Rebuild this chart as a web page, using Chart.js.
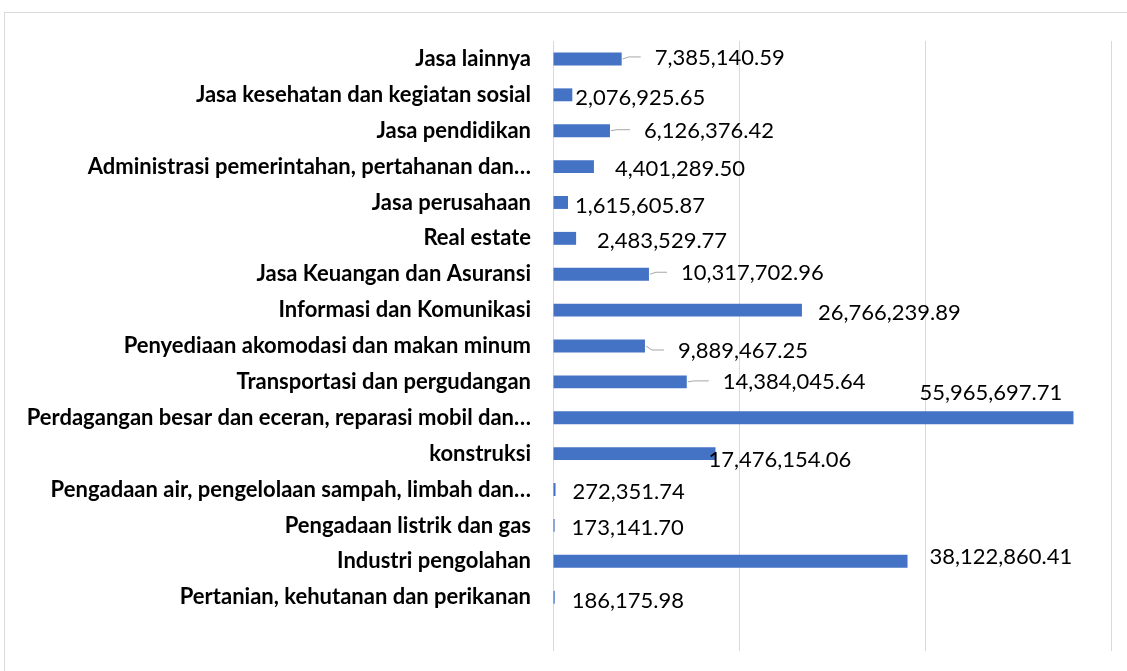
<!DOCTYPE html>
<html>
<head>
<meta charset="utf-8">
<script src="https://cdn.jsdelivr.net/npm/chart.js@4/dist/chart.umd.min.js"></script>
<style>
  html, body { margin: 0; padding: 0; background: #fff; overflow: hidden; }
  #wrap { position: relative; width: 1127px; height: 671px; }
  #frame { position: absolute; left: 4px; top: 12px; width: 1140px; height: 690px; border: 1px solid #d9d9d9; box-sizing: border-box; }
  canvas { position: absolute; left: 0; top: 0; }
</style>
</head>
<body>
<div id="wrap">
  <div id="frame"></div>
  <canvas id="c" width="1127" height="671"></canvas>
</div>
<script>
/* categories, top to bottom (last one is an empty row in the sheet) */
const categories = [
  'Jasa lainnya',
  'Jasa kesehatan dan kegiatan sosial',
  'Jasa pendidikan',
  'Administrasi pemerintahan, pertahanan dan…',
  'Jasa perusahaan',
  'Real estate',
  'Jasa Keuangan dan Asuransi',
  'Informasi dan Komunikasi',
  'Penyediaan akomodasi dan makan minum',
  'Transportasi dan pergudangan',
  'Perdagangan besar dan eceran, reparasi mobil dan…',
  'konstruksi',
  'Pengadaan air, pengelolaan sampah, limbah dan…',
  'Pengadaan listrik dan gas',
  'Industri pengolahan',
  'Pertanian, kehutanan dan perikanan',
  ''
];

const values = [
  7385140.59,
  2076925.65,
  6126376.42,
  4401289.50,
  1615605.87,
  2483529.77,
  10317702.96,
  26766239.89,
  9889467.25,
  14384045.64,
  55965697.71,
  17476154.06,
  272351.74,
  173141.70,
  38122860.41,
  186175.98,
  null
];

const axisMin = 0;
const axisMax = 60000000;
const axisStep = 20000000;

/* label placement, relative to the bar end (px) — excel labels were dragged by hand */
const labelShift = [
  [33, -2], [3, 2], [34, -1], [21, 1], [7, 2], [21, 2], [32, -2], [16, 2],
  [33, 4], [36, -1], [-154, -26], [-7, 5], [17, 1], [17, 1], [22, -5], [17, 3], [0, 0]
];
const withLeader = [0, 2, 6, 8, 9];

const fmt = v => v.toLocaleString('en-US', { minimumFractionDigits: 2, maximumFractionDigits: 2 });

const valueLabels = {
  id: 'valueLabels',
  afterDatasetsDraw(chart) {
    const ctx = chart.ctx;
    const meta = chart.getDatasetMeta(0);
    ctx.save();
    ctx.font = '22px Lato';
    ctx.fillStyle = '#000';
    ctx.textBaseline = 'middle';
    ctx.textAlign = 'left';
    meta.data.forEach((bar, i) => {
      const v = values[i];
      if (v == null) return;
      const [dx, dy] = labelShift[i];
      const tx = bar.x + dx, ty = bar.y + dy;
      if (withLeader.includes(i)) {
        ctx.strokeStyle = '#a6a6a6';
        ctx.lineWidth = 1;
        ctx.beginPath();
        ctx.moveTo(bar.x + 1, bar.y);
        ctx.lineTo(bar.x + 7, ty);
        ctx.lineTo(tx - 14, ty);
        ctx.stroke();
      }
      ctx.fillText(fmt(v), tx, ty + 1);
    });
    ctx.restore();
  }
};

new Chart(document.getElementById('c'), {
  type: 'bar',
  data: {
    labels: categories,
    datasets: [{
      data: values,
      backgroundColor: '#4472c4',
      borderWidth: 0,
      barPercentage: 0.36,
      categoryPercentage: 1
    }]
  },
  options: {
    indexAxis: 'y',
    responsive: false,
    devicePixelRatio: 1,
    animation: false,
    layout: { padding: { top: 41, bottom: 20, right: 16, left: 0 } },
    plugins: { legend: { display: false }, tooltip: { enabled: false } },
    scales: {
      x: {
        min: axisMin, max: axisMax,
        ticks: { display: false, stepSize: axisStep },
        grid: { color: '#d9d9d9', drawTicks: false },
        border: { display: false },
        afterFit: s => { s.height = 0; }
      },
      y: {
        ticks: { color: '#000', font: { family: 'Lato', size: 22, weight: 'bold' }, padding: 22, autoSkip: false },
        grid: { display: false, drawTicks: false },
        border: { display: false },
        afterFit: s => { s.width = 553; s.paddingTop = 0; s.paddingBottom = 0; }
      }
    }
  },
  plugins: [valueLabels]
});
</script>
</body>
</html>
